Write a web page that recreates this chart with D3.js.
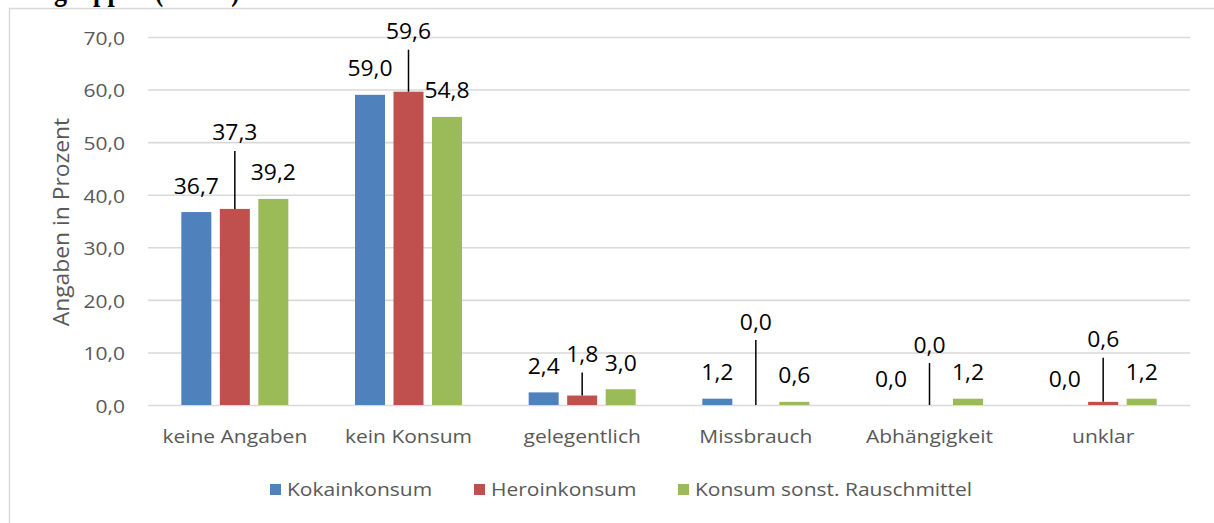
<!DOCTYPE html>
<html>
<head>
<meta charset="utf-8">
<script src="https://cdn.jsdelivr.net/npm/d3@7"></script>
<style>
  body { margin: 0; background: #fff; }
  svg { display: block; }
  text { font-family: "Open Sans", sans-serif; }
</style>
</head>
<body>
<div id="chart"></div>
<script>
// data
const categories = ["keine Angaben", "kein Konsum", "gelegentlich", "Missbrauch", "Abhängigkeit", "unklar"];
const seriesNames = ["Kokainkonsum", "Heroinkonsum", "Konsum sonst. Rauschmittel"];
const kokain = [36.7, 59.0, 2.4, 1.2, 0.0, 0.0];
const heroin = [37.3, 59.6, 1.8, 0.0, 0.0, 0.6];
const sonstige = [39.2, 54.8, 3.0, 0.6, 1.2, 1.2];
const yTicks = [0, 10, 20, 30, 40, 50, 60, 70];

const colors = ["#4f81bd", "#c0504d", "#9bbb59"];
// how far the heroin labels sit above their bar (px), leader lines fill the gap
const heroinLift = [76, 60, 41, 83, 60, 62];

const W = 1214, H = 523;
const margin = {top: 37, right: 24, bottom: 118, left: 148};
const width = W - margin.left - margin.right;
const height = H - margin.top - margin.bottom;
const sx = 1.2; // text in the reference is drawn wide

const de = d3.formatLocale({decimal: ",", thousands: ".", grouping: [3], currency: ["", " €"]});
const fmt = de.format(".1f");

const svg = d3.select("#chart").append("svg")
    .attr("width", W)
    .attr("height", H);

// outer chart frame (only left and top edge visible)
svg.append("rect")
    .attr("x", 9.5).attr("y", 8.5)
    .attr("width", W + 20).attr("height", H + 20)
    .attr("fill", "none")
    .attr("stroke", "#d9d9d9")
    .attr("stroke-width", 1.5);

// heading above the frame, cut off by the picture's top edge
svg.append("text")
    .attr("transform", "translate(240,-0.5) scale(1,1.3)")
    .attr("text-anchor", "end")
    .style("font-family", "'Liberation Serif', serif")
    .style("font-weight", "bold")
    .style("font-size", "26px")
    .text("Altersgruppen (n=166)");

const g = svg.append("g")
    .attr("transform", "translate(" + margin.left + "," + margin.top + ")");

const y = d3.scaleLinear().domain([0, 70]).range([height, 0]);
const x0 = d3.scaleBand().domain(categories).range([0, width]);
const x1 = d3.scaleBand().domain(seriesNames).range([-53.5, 53.5]).paddingInner(8.5 / 38.5);

// y axis with gridlines
const yAxis = d3.axisLeft(y)
    .tickValues(yTicks)
    .tickSize(-width)
    .tickFormat(fmt);

const ya = g.append("g").call(yAxis);
ya.select(".domain").remove();
ya.selectAll("line").attr("stroke", "#d9d9d9").attr("stroke-width", 1.6);
ya.selectAll("text")
    .attr("x", null)
    .attr("dy", "0.36em")
    .attr("transform", "translate(-23,1) scale(" + sx + ",1)")
    .attr("text-anchor", "end")
    .attr("fill", "#595959")
    .style("font-size", "17.5px");

// y label
svg.append("text")
    .attr("transform", "translate(69,222) rotate(-90) scale(1.27,1.2)")
    .attr("text-anchor", "middle")
    .attr("fill", "#595959")
    .style("font-size", "18px")
    .text("Angaben in Prozent");

// x category labels
const xa = g.append("g")
    .attr("transform", "translate(0," + height + ")")
    .call(d3.axisBottom(x0).tickSize(0).tickPadding(0));
xa.select(".domain").remove();
xa.selectAll("text")
    .attr("y", null).attr("dy", null)
    .attr("transform", "translate(0,38) scale(" + sx + ",1)")
    .attr("fill", "#595959")
    .style("font-size", "17.5px");

const allSeries = [kokain, heroin, sonstige];

const groups = g.selectAll(".grp")
    .data(categories)
    .enter().append("g")
    .attr("class", "grp")
    .attr("transform", d => "translate(" + (x0(d) + x0.bandwidth() / 2) + ",0)");

groups.selectAll("rect")
    .data((d, i) => seriesNames.map((s, k) => ({s: s, k: k, v: allSeries[k][i], i: i})))
    .enter().append("rect")
    .attr("x", d => x1(d.s))
    .attr("width", x1.bandwidth())
    .attr("y", d => y(d.v))
    .attr("height", d => height - y(d.v))
    .attr("fill", d => colors[d.k]);

// data labels
groups.each(function(cat, i) {
    const grp = d3.select(this);
    allSeries.forEach((vals, k) => {
        const v = vals[i];
        const cx = x1(seriesNames[k]) + x1.bandwidth() / 2;
        const top = y(v);
        let cy = top - 26;
        if (k === 1) {
            cy = top - heroinLift[i];
            grp.append("line")
                .attr("x1", cx).attr("x2", cx)
                .attr("y1", cy + 18).attr("y2", top)
                .attr("stroke", "#000")
                .attr("stroke-width", 1.5);
        }
        grp.append("text")
            .attr("transform", "translate(" + cx + "," + (cy + 7.5) + ") scale(1.09,1)")
            .attr("text-anchor", "middle")
            .attr("fill", "#000")
            .style("font-size", "21px")
            .text(fmt(v));
    });
});

// legend
const legendX = [270, 474, 678];
const lg = svg.append("g").attr("transform", "translate(0,490)");
seriesNames.forEach((s, k) => {
    lg.append("rect")
        .attr("x", legendX[k]).attr("y", -6)
        .attr("width", 11).attr("height", 11)
        .attr("fill", colors[k]);
    lg.append("text")
        .attr("transform", "translate(" + (legendX[k] + 17) + ",6) scale(" + sx + ",1)")
        .attr("fill", "#595959")
        .style("font-size", "17.5px")
        .text(s);
});
</script>
</body>
</html>
